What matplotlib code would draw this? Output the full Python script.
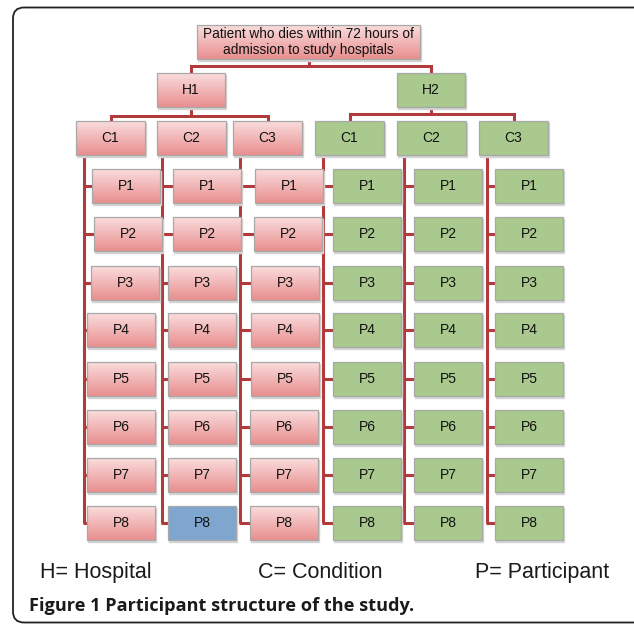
import numpy as np
import matplotlib.pyplot as plt
from matplotlib.patches import Rectangle, FancyBboxPatch
from matplotlib.colors import LinearSegmentedColormap

# labels of the tree
top_label = 'Patient who dies within 72 hours of\nadmission to study hospitals'
hospitals = ['H1', 'H2']
conditions = ['C1', 'C2', 'C3']
participants = ['P1', 'P2', 'P3', 'P4', 'P5', 'P6', 'P7', 'P8']
hospital_style = {'H1': 'pink', 'H2': 'green'}
highlight = ('H1', 'C2', 'P8')   # the blue box
legend_labels = ['H= Hospital', 'C= Condition', 'P= Participant']
caption_bold = 'Figure 1'
caption_rest = 'Participant structure of the study.'

# layout (pixels)
top_box = (197, 25, 223, 34)
hosp_x = {'H1': 157, 'H2': 397}
hosp_y, hosp_w, hosp_h = 73, 68, 34
hosp_bar_y = {'H1': 116, 'H2': 114}
cond_x = {'H1': [76, 157, 233], 'H2': [315, 397, 479]}
cond_y, cond_w, cond_h = 121, 69, 34
cond_line_x = {'H1': [84, 162, 240], 'H2': [323, 404, 487]}
row_y = [169, 217, 266, 313, 362, 410, 458, 506]
part_w, part_h = 68, 34
part_x = {
    'H1': [[92, 94, 91, 87, 87, 87, 87, 87],
           [173, 173, 168, 168, 168, 168, 168, 168],
           [255, 254, 251, 251, 251, 250, 250, 250]],
    'H2': [[333] * 8, [414] * 8, [495] * 8],
}

LINE = '#b13a3c'
EDGE = '#a8a8a8'
pink = LinearSegmentedColormap.from_list('pink', ['#fadcdc', '#e98f8f'])
fills = {'green': '#a9c98e', 'blue': '#7ea6cf'}

fig = plt.figure(figsize=(6.34, 6.27), dpi=100)
ax = fig.add_axes([0, 0, 1, 1])
ax.set_xlim(0, 634)
ax.set_ylim(627, 0)
ax.axis('off')

grad = np.linspace(0, 1, 64).reshape(-1, 1)


def box(x, y, w, h, label, style, fs=10):
    ax.add_patch(Rectangle((x + 1.2, y + 1.5), w, h, color='#d4d4d4', zorder=3))
    if style == 'pink':
        ax.imshow(grad, cmap=pink, extent=[x, x + w, y + h, y], aspect='auto',
                  zorder=4, interpolation='bilinear')
        ax.add_patch(Rectangle((x, y), w, h, fill=False, ec=EDGE, lw=0.9, zorder=5))
    else:
        ax.add_patch(Rectangle((x, y), w, h, fc=fills[style], ec=EDGE, lw=0.9, zorder=5))
    ax.text(x + w / 2, y + h / 2, label, ha='center', va='center', fontsize=fs,
            family='Liberation Sans', color='#111111', zorder=6, linespacing=1.15)


def line(xs, ys):
    ax.plot(xs, ys, color=LINE, lw=2.2, solid_capstyle='butt',
            solid_joinstyle='miter', zorder=2)


# top box and links to hospitals
tx, ty, tw, th = top_box
box(tx, ty, tw, th, top_label, 'pink', fs=9.8)
top_cx = tx + tw / 2
hosp_cx = [hosp_x[h] + hosp_w / 2 for h in hospitals]
line([top_cx, top_cx], [ty + th, 66])
line([hosp_cx[0], hosp_cx[0], hosp_cx[1], hosp_cx[1]], [hosp_y, 66, 66, hosp_y])

for h in hospitals:
    hx = hosp_x[h]
    cx = hx + hosp_w / 2
    box(hx, hosp_y, hosp_w, hosp_h, h, hospital_style[h])
    c_centers = [x + cond_w / 2 for x in cond_x[h]]
    by = hosp_bar_y[h]
    line([cx, cx], [hosp_y + hosp_h, by])
    line([c_centers[0], c_centers[0], c_centers[-1], c_centers[-1]],
         [cond_y, by, by, cond_y])
    for ci, c in enumerate(conditions):
        box(cond_x[h][ci], cond_y, cond_w, cond_h, c, hospital_style[h])
        lx = cond_line_x[h][ci]
        last_mid = row_y[-1] + part_h / 2
        line([lx, lx], [cond_y + cond_h, last_mid])
        for pi, p in enumerate(participants):
            px = part_x[h][ci][pi]
            py = row_y[pi]
            mid = py + part_h / 2
            line([lx - 1.1, px], [mid, mid])
            style = 'blue' if (h, c, p) == highlight else hospital_style[h]
            box(px, py, part_w, part_h, p, style)

# legend line
leg_x = [40, 258, 475]
for x, t in zip(leg_x, legend_labels):
    ax.text(x, 578, t, ha='left', va='baseline', fontsize=15.5,
            family='Liberation Sans', color='#1a1a1a')

# caption
ax.text(29, 611, caption_bold + ' ' + caption_rest, ha='left', va='baseline',
        fontsize=13.1, family='Open Sans', fontweight='bold', color='#1a1a1a')

# outer rounded frame
ax.add_patch(FancyBboxPatch((13, 7.5), 640, 615, boxstyle='round,pad=0,rounding_size=11',
                            fill=False, ec='#222222', lw=1.3, zorder=1))

fig.savefig('out.png', dpi=100)
